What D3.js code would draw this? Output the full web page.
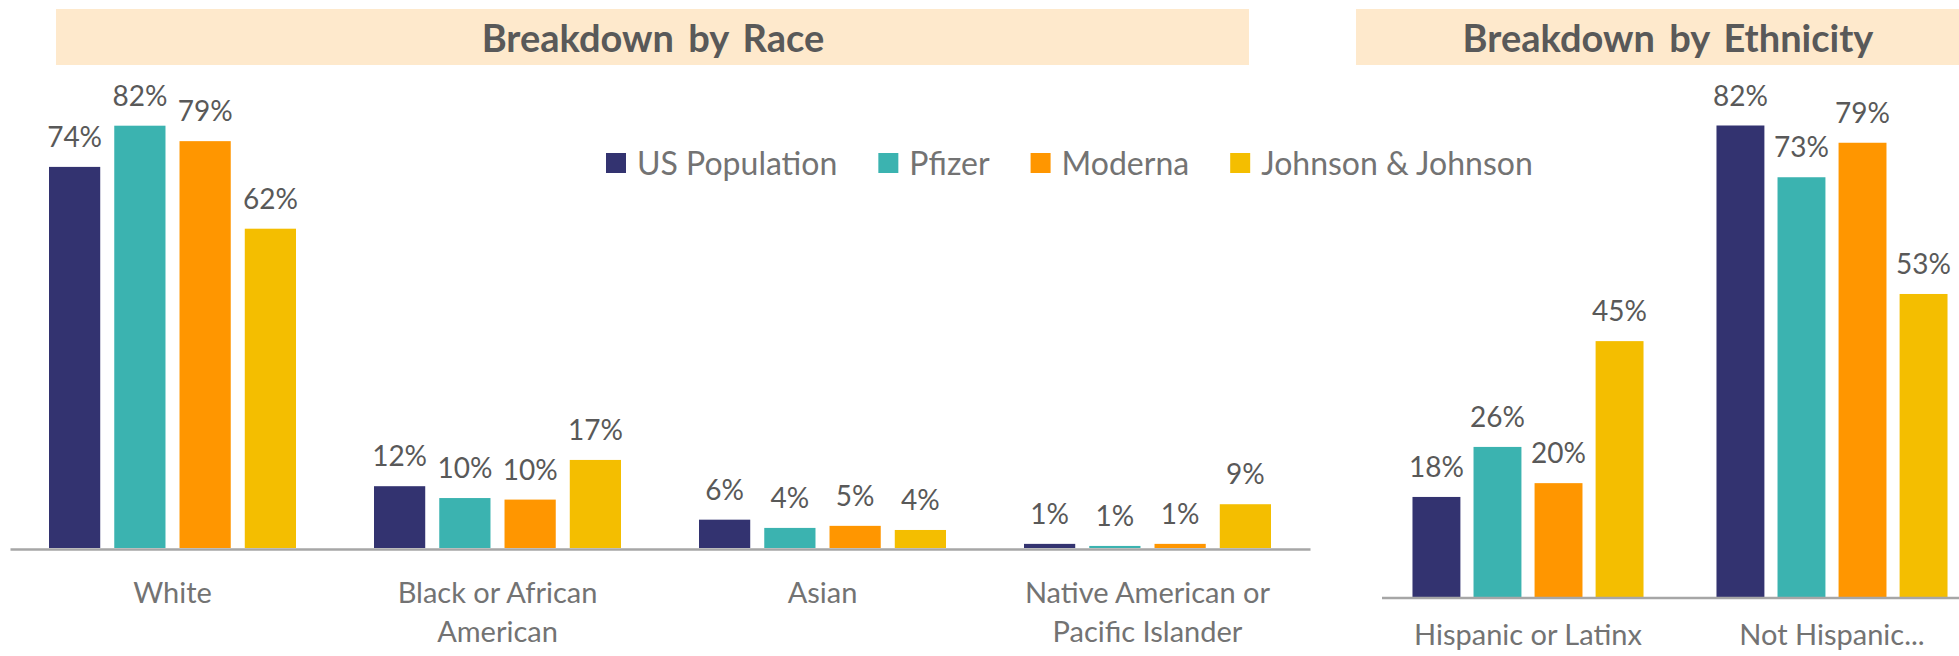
<!DOCTYPE html>
<html>
<head>
<meta charset="utf-8">
<script src="https://cdn.jsdelivr.net/npm/d3@7"></script>
<style>
  html, body { margin: 0; padding: 0; background: #ffffff; }
  svg { display: block; }
  text { font-family: Lato, "Open Sans", sans-serif; }
</style>
</head>
<body>
<svg id="chart" width="1959" height="656"></svg>
<script>
// ---------- data ----------
const series = ["US Population", "Pfizer", "Moderna", "Johnson & Johnson"];
const seriesColors = ["#333370", "#3bb3b0", "#ff9600", "#f4be00"];

const raceCategories = ["White", "Black or African American", "Asian", "Native American or Pacific Islander"];
const raceCategoryLines = [["White"], ["Black or African", "American"], ["Asian"], ["Native American or", "Pacific Islander"]];
// values (percent) per series, in raceCategories order
const raceUSPopulation = [74, 12, 5.5, 0.8];
const racePfizer       = [82, 9.7, 3.9, 0.4];
const raceModerna      = [79, 9.4, 4.3, 0.8];
const raceJJ           = [62, 17.1, 3.5, 8.5];
// printed data labels
const raceUSPopulationLabels = ["74%", "12%", "6%", "1%"];
const racePfizerLabels       = ["82%", "10%", "4%", "1%"];
const raceModernaLabels      = ["79%", "10%", "5%", "1%"];
const raceJJLabels           = ["62%", "17%", "4%", "9%"];

const ethCategories = ["Hispanic or Latinx", "Not Hispanic..."];
const ethUSPopulation = [17.4, 82];
const ethPfizer       = [26.1, 73];
const ethModerna      = [19.8, 79];
const ethJJ           = [44.5, 52.7];
const ethUSPopulationLabels = ["18%", "82%"];
const ethPfizerLabels       = ["26%", "73%"];
const ethModernaLabels      = ["20%", "79%"];
const ethJJLabels           = ["45%", "53%"];

const titles = ["Breakdown by Race", "Breakdown by Ethnicity"];

// ---------- build tables ----------
function table(cats, valsBySeries, labsBySeries) {
  return cats.map((c, i) => ({
    cat: c,
    bars: series.map((s, j) => ({ s, v: valsBySeries[j][i], lab: labsBySeries[j][i] }))
  }));
}
const raceData = table(raceCategories,
  [raceUSPopulation, racePfizer, raceModerna, raceJJ],
  [raceUSPopulationLabels, racePfizerLabels, raceModernaLabels, raceJJLabels]);
const ethData = table(ethCategories,
  [ethUSPopulation, ethPfizer, ethModerna, ethJJ],
  [ethUSPopulationLabels, ethPfizerLabels, ethModernaLabels, ethJJLabels]);

const svg = d3.select("#chart");
const color = d3.scaleOrdinal().domain(series).range(seriesColors);

const LABEL_COLOR = "#595959";
const CAT_COLOR = "#737373";
const AXIS_COLOR = "#a6a6a6";

// ---------- banners ----------
const banners = [
  { x0: 56, x1: 1249, title: titles[0], cx: 653 },
  { x0: 1356, x1: 1980, title: titles[1], cx: 1668 }
];
const bg = svg.append("g");
bg.selectAll("rect").data(banners).join("rect")
  .attr("x", d => d.x0).attr("y", 9)
  .attr("width", d => d.x1 - d.x0).attr("height", 56)
  .attr("fill", "#fee9cc");
bg.selectAll("text").data(banners).join("text")
  .attr("x", d => d.cx).attr("y", 52)
  .attr("text-anchor", "middle")
  .attr("font-weight", "bold")
  .attr("font-size", 38)
  .attr("word-spacing", 5)
  .attr("fill", LABEL_COLOR)
  .text(d => d.title);

// ---------- panel drawing ----------
function drawPanel(data, opts) {
  const g = svg.append("g");
  const x0 = d3.scaleBand().domain(data.map(d => d.cat)).range([opts.left, opts.right]).padding(0);
  const bw = x0.bandwidth();
  const span = bw * 0.76;
  const x1 = d3.scaleBand().domain(series)
    .range([(bw - span) / 2, (bw + span) / 2])
    .paddingInner(0.215).paddingOuter(0);
  const y = d3.scaleLinear().domain([0, 100]).range([opts.base, opts.base - opts.pxPer100]);

  const groups = g.selectAll("g.grp").data(data).join("g")
    .attr("class", "grp")
    .attr("transform", d => `translate(${x0(d.cat)},0)`);

  groups.selectAll("rect").data(d => d.bars).join("rect")
    .attr("x", d => x1(d.s))
    .attr("width", x1.bandwidth())
    .attr("y", d => y(d.v))
    .attr("height", d => y(0) - y(d.v))
    .attr("fill", d => color(d.s));

  groups.selectAll("text.val").data(d => d.bars).join("text")
    .attr("class", "val")
    .attr("x", d => x1(d.s) + x1.bandwidth() / 2)
    .attr("y", d => y(d.v) - 20)
    .attr("text-anchor", "middle")
    .attr("font-size", 28)
    .attr("fill", LABEL_COLOR)
    .text(d => d.lab);

  // axis line
  const axis = d3.axisBottom(x0).tickSize(0).tickSizeOuter(0).tickFormat("");
  const ax = g.append("g").attr("transform", `translate(0,${opts.base + 1})`).call(axis);
  ax.select(".domain").attr("stroke", AXIS_COLOR).attr("stroke-width", 2.5);
  if (opts.axisStart != null) {
    ax.select(".domain").attr("d", `M${opts.axisStart},0H${opts.right}`);
  }

  // category labels
  const cl = g.selectAll("text.cat").data(data).join("text")
    .attr("class", "cat")
    .attr("text-anchor", "middle")
    .attr("font-size", 29)
    .attr("fill", CAT_COLOR)
    .attr("transform", d => `translate(${x0(d.cat) + bw / 2},${opts.base + opts.labelOffset})`);
  cl.selectAll("tspan").data((d, i) => opts.lines[i]).join("tspan")
    .attr("x", 0)
    .attr("dy", (d, i) => i === 0 ? 0 : 39)
    .text(d => d);
}

drawPanel(raceData, { left: 10, right: 1310, base: 548, pxPer100: 515, labelOffset: 55,
  lines: raceCategoryLines });
drawPanel(ethData, { left: 1376, right: 1984, base: 597, pxPer100: 575, axisStart: 1382, labelOffset: 48,
  lines: ethCategories.map(c => [c]) });

// ---------- legend ----------
const legend = svg.append("g").attr("transform", "translate(606,0)");
let lx = 0;
series.forEach((s, i) => {
  const it = legend.append("g").attr("transform", `translate(${lx},0)`);
  it.append("rect").attr("x", 0).attr("y", 153).attr("width", 20).attr("height", 20).attr("fill", color(s));
  const t = it.append("text").attr("x", 31).attr("y", 175)
    .attr("font-size", 32).attr("fill", CAT_COLOR).text(s);
  const w = t.node().getComputedTextLength();
  lx += 31 + w + 41;
});
</script>
</body>
</html>
